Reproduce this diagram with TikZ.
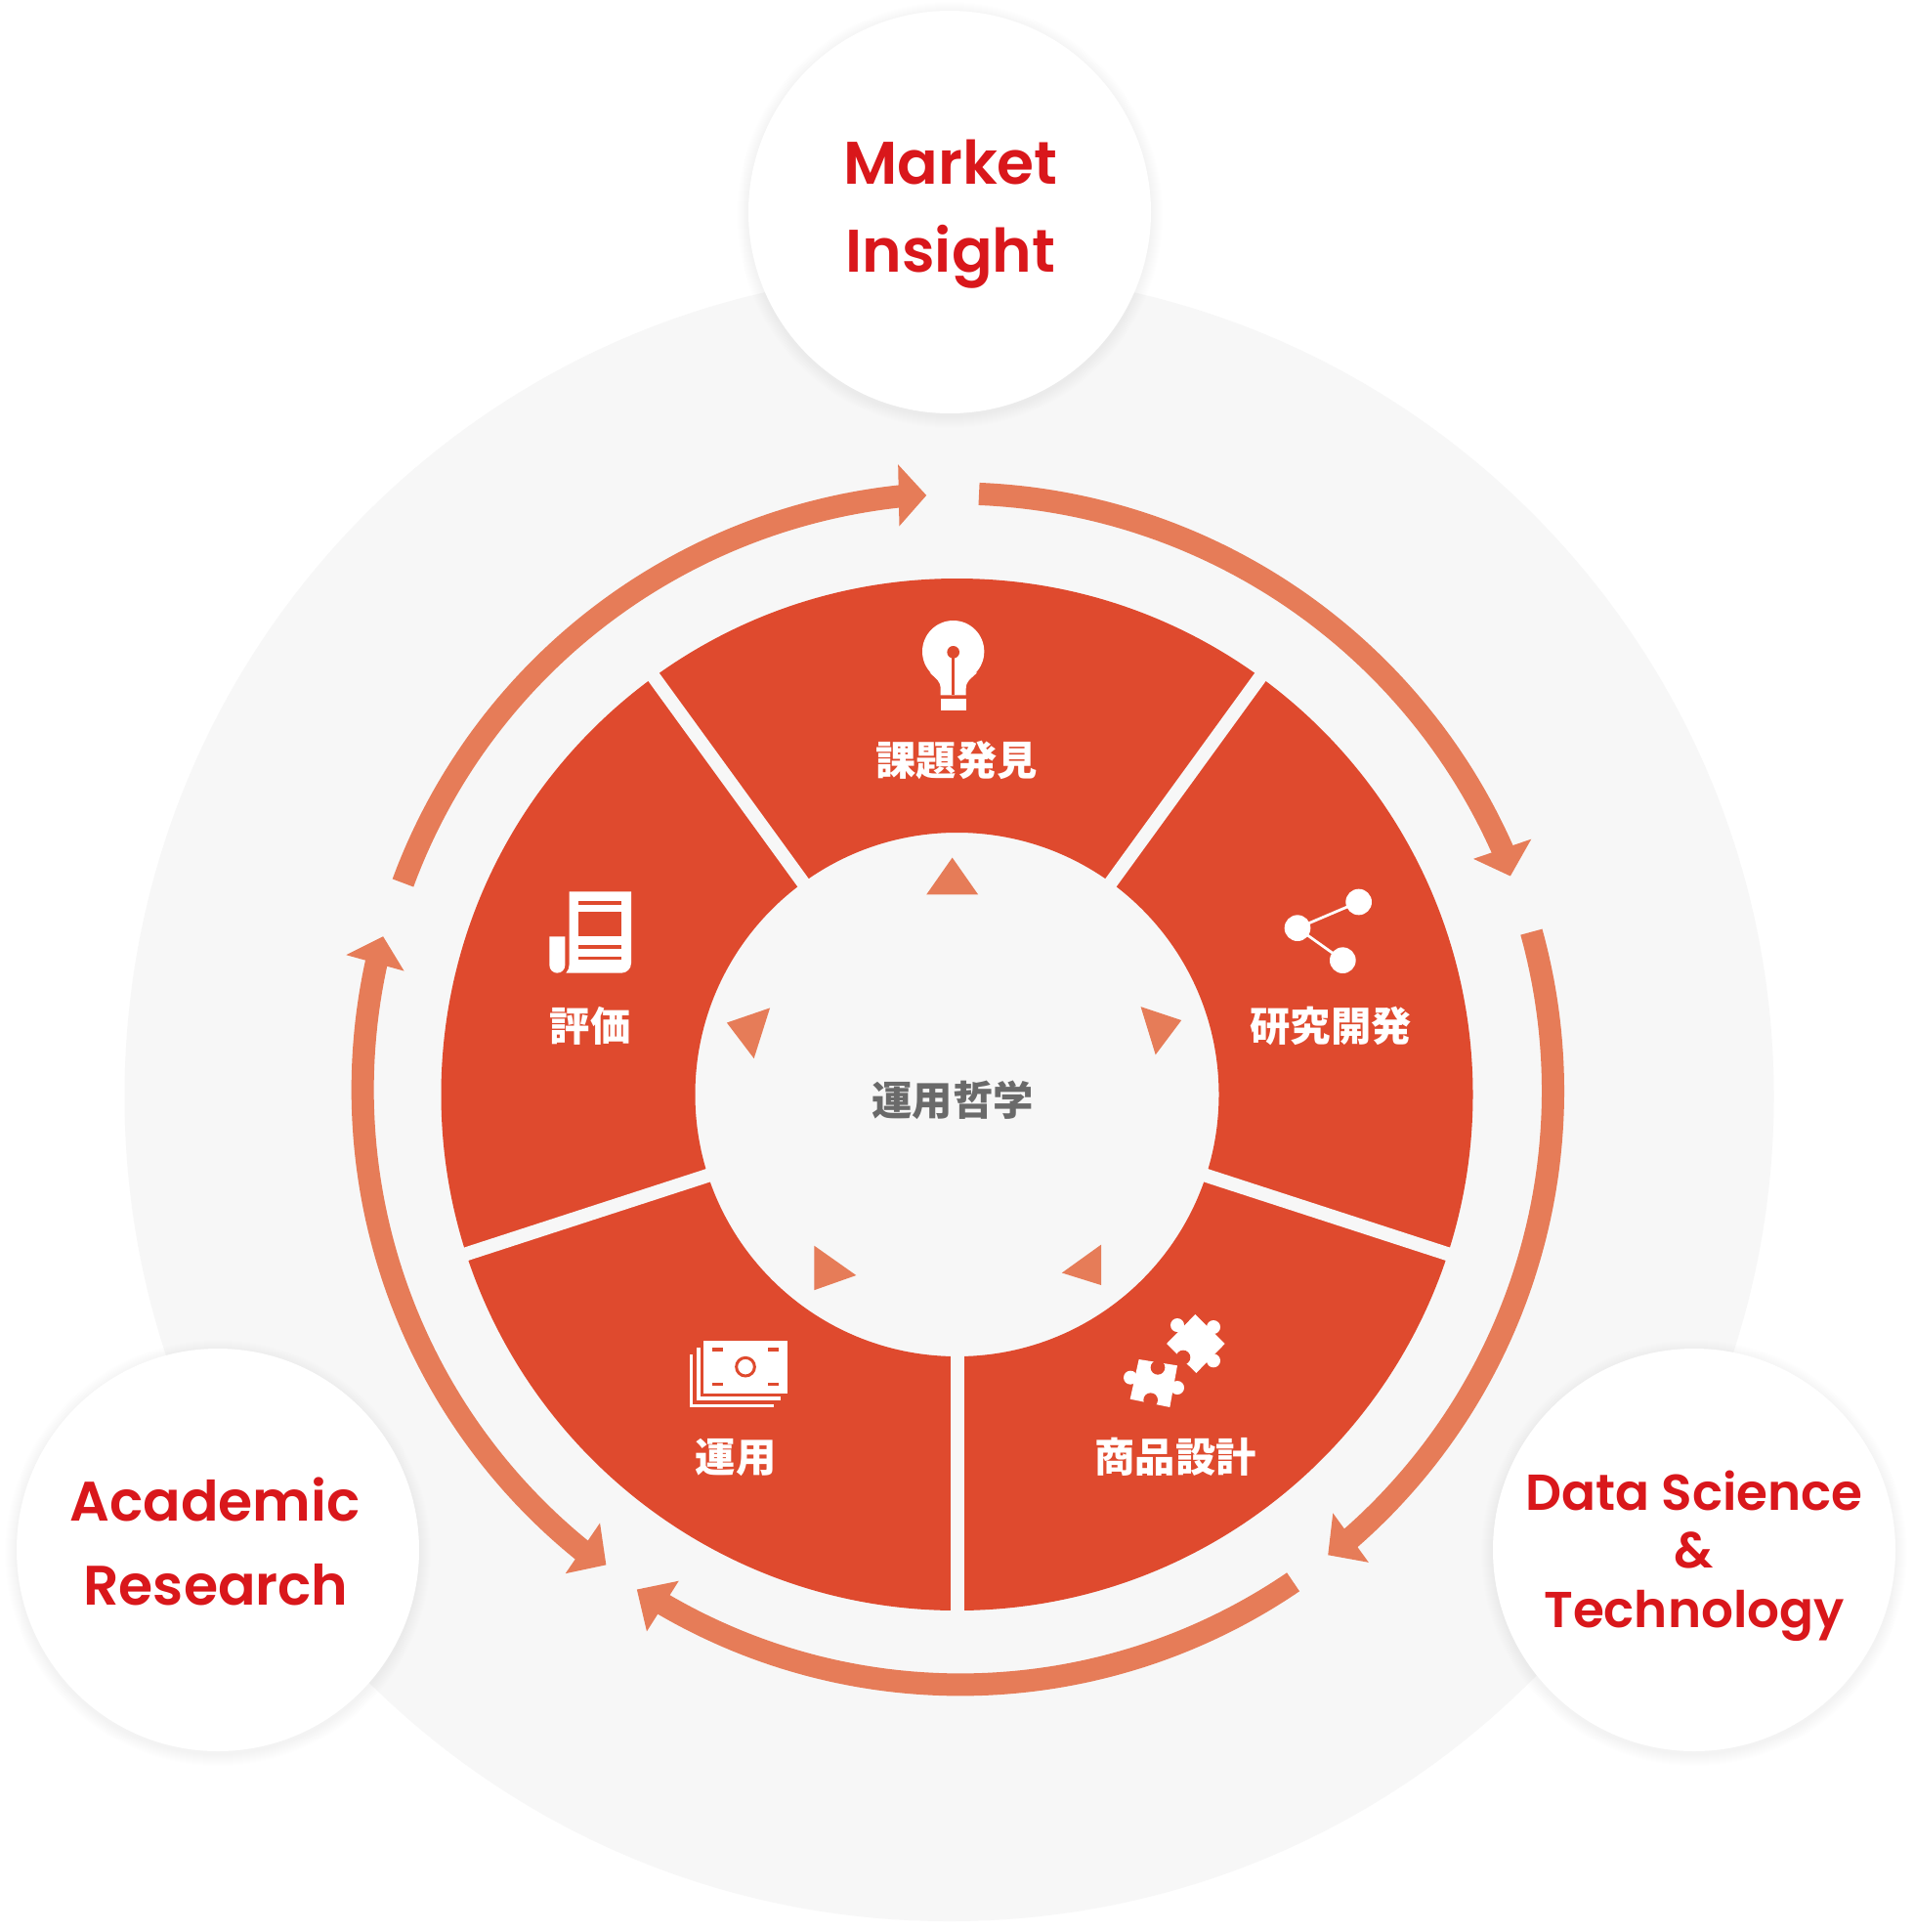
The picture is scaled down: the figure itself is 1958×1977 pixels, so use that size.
\documentclass[tikz,border=0pt]{standalone}
\usepackage{fontspec}
\setmainfont{Poppins SemiBold}
\newfontfamily\cjk{Noto Sans CJK JP}
\definecolor{bgc}{HTML}{F7F7F7}
\definecolor{pie}{HTML}{DF4A2E}
\definecolor{arcc}{HTML}{E67C58}
\definecolor{titlec}{HTML}{D9171B}
\definecolor{greyt}{HTML}{6A6A6A}
\def\cx{979.5}\def\cy{1120}
\tikzset{
  shrunk/.style={x=0.025216cm,y=-0.025216cm},
  zoomed/.style={x=0.0066667cm,y=-0.0066667cm},
  title/.style={font=\fontsize{#1}{#1}\selectfont,text=titlec,anchor=base,inner sep=0pt},
  title/.default=35,
  label/.style={font=\cjk\bfseries\fontsize{23.5}{23.5}\selectfont,text=white,inner sep=0pt},
  ringarc/.style={draw=arcc,line width=0.46cm},
}
\newcommand{\ringseg}[4]{\draw[ringarc] plot[domain=0:1,samples=120] ({\cx+(#3+(#4-#3)*\x)*cos(#1+(#2-#1)*\x)},{\cy-(#3+(#4-#3)*\x)*sin(#1+(#2-#1)*\x)});}
\newcommand{\softcircle}[2]{%
  \foreach \s in {1,...,12}{\fill[black,opacity=0.0035] (#1,#2+3) circle[radius=206+\s];}
  \fill[white] (#1,#2) circle[radius=206];}
\begin{document}
\begin{tikzpicture}[x=0.02cm,y=-0.02cm]
\useasboundingbox (0,0) rectangle (1958,1977);
\fill[white] (0,0) rectangle (1958,1977);
% background disc
\fill[bgc] (971.5,1122) circle[radius=844];
\softcircle{972}{217}
\softcircle{223}{1586}
\softcircle{1734}{1586}
% pie
\fill[pie,even odd rule] (\cx,\cy) circle[radius=528] (\cx,\cy) circle[radius=268];
\foreach \a in {54,126,198,270,342}{
  \draw[bgc,line width=0.28cm] ({\cx+260*cos(\a)},{\cy-260*sin(\a)}) -- ({\cx+540*cos(\a)},{\cy-540*sin(\a)});
}
% ring arcs
\ringseg{87.9}{23.5}{615}{612}
\ringseg{15.8}{-49}{611}{607}
\ringseg{-55.4}{-121.5}{606}{602}
\ringseg{231}{166.5}{604}{609.5}
\ringseg{159.1}{95}{607}{615}
\begin{scope}[shift={(0,0)},shrunk]
\fill[arcc] (1243,681) -- (1196,697) -- (1226,711) -- cycle;
\fill[arcc] (1082,1228) -- (1111,1268) -- (1078,1262) -- cycle;
\fill[arcc] (551,1283) -- (525,1324) -- (517,1290) -- cycle;
\fill[arcc] (487,1236) -- (459,1277) -- (492,1270) -- cycle;
\fill[arcc] (281,775) -- (328,788) -- (311,760) -- cycle;
\fill[arcc] (729,377) -- (730,427) -- (752,402) -- cycle;
% inner triangles
\fill[arcc] (773,696) -- (752,726) -- (794,726) -- cycle;
\fill[arcc] (926,817) -- (959,828) -- (938,856) -- cycle;
\fill[arcc] (894,1010) -- (862,1033) -- (894,1043) -- cycle;
\fill[arcc] (661,1011) -- (695,1035) -- (661,1047) -- cycle;
\fill[arcc] (625,818) -- (590,830) -- (612,859) -- cycle;
\end{scope}
% bulb icon
\begin{scope}[shift={(880,610)},zoomed]
\fill[white] (287,170) circle[radius=95];
\fill[white] (215,235) .. controls (235,255) and (248,260) .. (248,285) -- (248,304) -- (326,304) -- (326,285) .. controls (326,260) and (340,255) .. (360,235) -- cycle;
\fill[white] (248,315) rectangle (326,352);
\fill[pie] (287,172) circle[radius=19];
\fill[pie] (283,172) rectangle (291,304);
\end{scope}
% newspaper icon
\begin{scope}[shift={(540,890)},zoomed]
\fill[white] (128,67) -- (318,67) -- (318,287) arc[start angle=0,end angle=90,radius=30] -- (118,317) .. controls (125,310) and (128,300) .. (128,290) -- cycle;
\fill[white] (67,205) -- (115,205) -- (115,293) arc[start angle=0,end angle=180,radius=24] -- cycle;
\fill[pie] (157,97) rectangle (288,107);
\fill[pie] (157,130) rectangle (288,205);
\fill[pie] (157,232) rectangle (288,242);
\fill[pie] (157,267) rectangle (288,276);
\end{scope}
% share icon
\begin{scope}[shift={(1270,890)},zoomed]
\draw[white,line width=0.055cm] (362,99) -- (174,179) -- (313,278);
\fill[white] (174,179) circle[radius=40];
\fill[white] (362,99) circle[radius=40];
\fill[white] (313,278) circle[radius=40];
\end{scope}
% puzzle icon
\begin{scope}[shift={(1110,1320)},zoomed]
\fill[white] (340,75) -- (431,165) -- (343,255) -- (252,165) -- cycle;
\fill[white] (285,108) circle[radius=21];
\fill[white] (396,114) circle[radius=21];
\fill[white] (396,217) circle[radius=21];
\fill[pie] (303,207) circle[radius=22];
\fill[white] (167,213) -- (285,232) -- (262,360) -- (140,335) -- cycle;
\fill[white] (141,269) circle[radius=21];
\fill[white] (285,300) circle[radius=21];
\fill[pie] (225,238) circle[radius=22];
\fill[pie] (203,338) circle[radius=22];
\end{scope}
% banknote icon
\begin{scope}[shift={(690,1350)},zoomed]
\fill[white] (48,108) rectangle (58,270);
\fill[white] (48,260) rectangle (305,270);
\fill[white] (70,88) rectangle (80,248);
\fill[white] (70,238) rectangle (327,248);
\fill[white] (90,67) rectangle (348,227);
\fill[pie] (118,88) rectangle (150,98);
\fill[pie] (288,88) rectangle (320,98);
\fill[pie] (118,195) rectangle (150,205);
\fill[pie] (288,195) rectangle (320,205);
\draw[pie,line width=0.06cm] (219,146) circle[radius=28];
\end{scope}
% labels
\node[label] (t1) at (979,778) {課題発見};
\node[label] (t2) at (1362,1050) {研究開発};
\node[label] (t3) at (1203,1491) {商品設計};
\node[label] (t4) at (753,1491) {運用};
\node[label] (t5) at (604,1050) {評価};
\node[label,text=greyt] (t6) at (975,1126) {運用哲学};
% titles
\node[title=35] (m1) at (973,188) {Market};
\node[title=35] (m2) at (973,278) {Insight};
\node[title=32.4] (a1) at (220,1556) {Academic};
\node[title=32.4] (a2) at (221,1642) {Research};
\node[title=29.4] (d1) at (1734,1545) {Data Science};
\node[title=29.4] (d2) at (1734,1604) {\&};
\node[title=29.4] (d3) at (1734,1665) {Technology};
\end{tikzpicture}
\end{document}
